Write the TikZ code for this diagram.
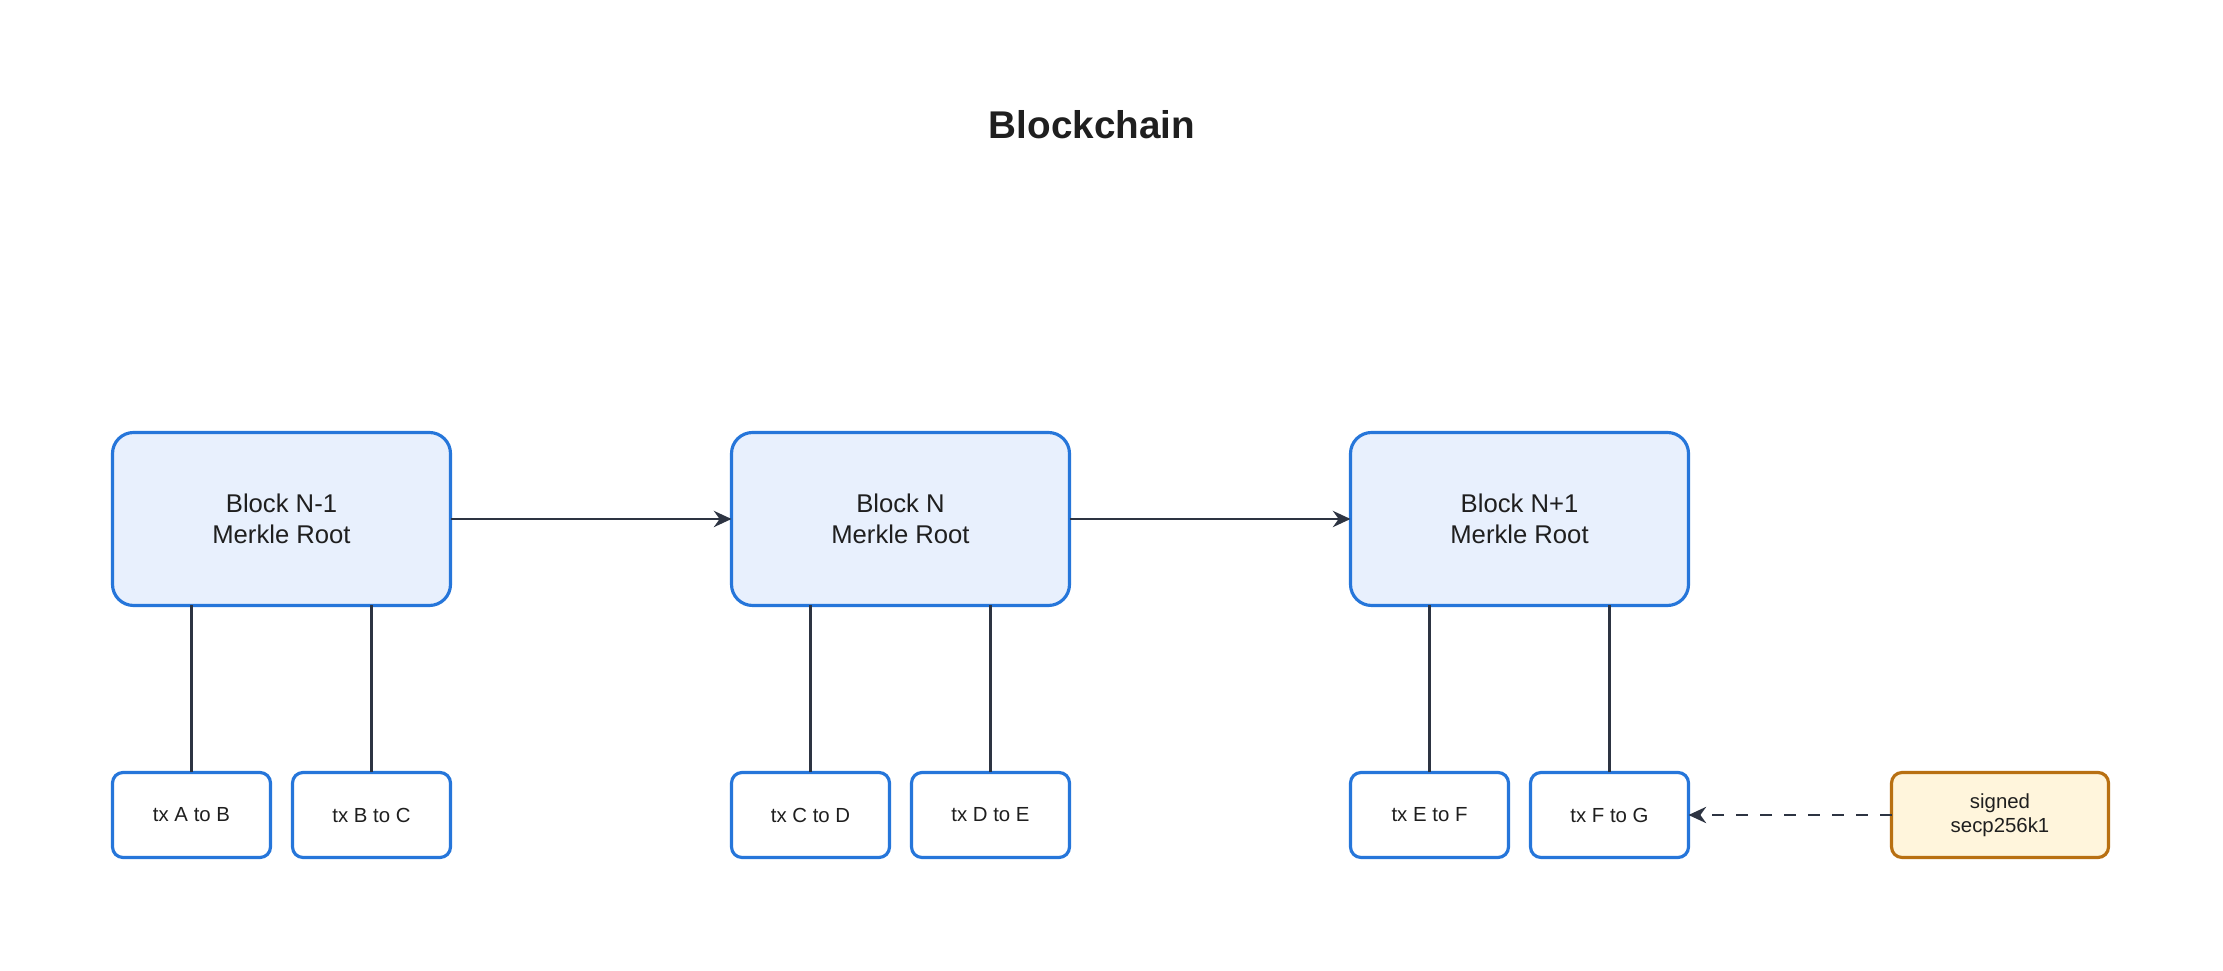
\documentclass[tikz,border=0pt]{standalone}
\usepackage{fontspec}
\setmainfont{Liberation Sans}
\usetikzlibrary{arrows.meta,positioning}
\definecolor{BlockBlue}{RGB}{38,118,218}
\definecolor{BlockFill}{RGB}{232,240,253}
\definecolor{SigOrange}{RGB}{184,112,18}
\definecolor{SigFill}{RGB}{255,245,220}
\definecolor{LinkGray}{RGB}{45,52,66}

\begin{document}
\begin{tikzpicture}[
  font=\fontsize{7.3}{8.8}\selectfont,
  text=black!88,
  >={Stealth[length=5pt,width=4.6pt]},
  link/.style={->, line width=0.8pt, draw=LinkGray},
  tie/.style={line width=0.8pt, draw=LinkGray},
  sig/.style={->, line width=0.8pt, draw=LinkGray, dash pattern=on 3.4pt off 3.4pt},
  block/.style={draw=BlockBlue, fill=BlockFill, line width=0.9pt, rounded corners=6pt,
                align=center, minimum width=3.38cm, minimum height=1.73cm,
                inner sep=0pt, outer sep=0pt},
  tx/.style={draw=BlockBlue, fill=white, line width=0.9pt, rounded corners=3pt,
             minimum width=1.58cm, minimum height=0.85cm, inner sep=0pt, outer sep=0pt,
             font=\fontsize{5.8}{6.9}\selectfont},
  signer/.style={tx, draw=SigOrange, fill=SigFill, minimum width=2.17cm, align=center}
]
\useasboundingbox (0,0) rectangle (22.23,-9.71);

% Title.
\node[font=\fontsize{11}{13}\selectfont\bfseries] (title) at (10.92,-1.25) {Blockchain};

% Chain of blocks.
\node[block] (blkA) at (2.815,-5.19) {Block N-1\\Merkle Root};
\node[block, right=2.81cm of blkA] (blkB) {Block N\\Merkle Root};
\node[block, right=2.81cm of blkB] (blkC) {Block N+1\\Merkle Root};

% Transactions under each block.
\node[tx, below right=1.67cm and 0cm of blkA.south west] (txA) {tx A to B};
\node[tx, right=0.22cm of txA] (txB) {tx B to C};
\node[tx, below right=1.67cm and 0cm of blkB.south west] (txC) {tx C to D};
\node[tx, right=0.22cm of txC] (txD) {tx D to E};
\node[tx, below right=1.67cm and 0cm of blkC.south west] (txE) {tx E to F};
\node[tx, right=0.22cm of txE] (txF) {tx F to G};

% Signature.
\node[signer, right=2.03cm of txF] (sign) {signed\\secp256k1};

% Links.
\draw[link] (blkA) -- (blkB);
\draw[link] (blkB) -- (blkC);
\foreach \t/\b in {txA/blkA, txB/blkA, txC/blkB, txD/blkB, txE/blkC, txF/blkC}
  \draw[tie] (\t) -- (\t |- \b.south);
\draw[sig] (sign) -- (txF);

\end{tikzpicture}
\end{document}
